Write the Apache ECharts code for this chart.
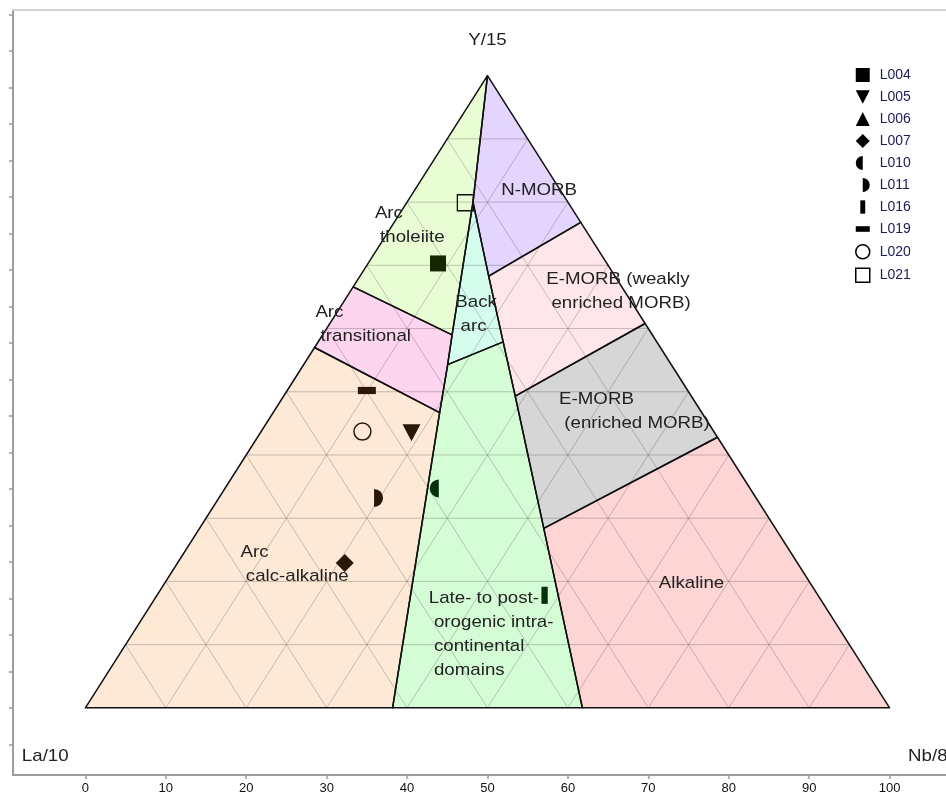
<!DOCTYPE html>
<html>
<head>
<meta charset="utf-8">
<title>La/10 - Y/15 - Nb/8</title>
<script src="https://cdn.jsdelivr.net/npm/echarts@6/dist/echarts.min.js"></script>
<style>
  html, body { margin: 0; padding: 0; background: #ffffff; }
  #chart { width: 946px; height: 796px; }
</style>
</head>
<body>
<div id="chart"></div>
<script>
// ---- Sample compositions (percent of La/10 + Y/15 + Nb/8) ----
const samples = ['L004', 'L005', 'L006', 'L007', 'L010', 'L011', 'L016', 'L019', 'L020', 'L021'];
const sampleLa = [21.0, 37.7, null, 56.3, 38.7, 47.5, 34.0, 39.9, 43.7, 12.8];
const sampleY  = [70.3, 43.5, null, 22.9, 34.7, 33.2, 17.8, 50.2, 43.7, 79.9];
const sampleNb = [ 8.7, 18.8, null, 20.8, 26.6, 19.3, 48.2,  9.9, 12.6,  7.3];

// ---- Field boundary nodes (ternary La, Y, Nb) ----
const nodeNames = ['apex', 'laCorner', 'nbCorner', 'backArcTop', 'tholLeft', 'tholRight',
  'transLeft', 'transRight', 'backArcLeft', 'backArcRight', 'nmorbLeft', 'nmorbRight',
  'emorbLeft', 'emorbRight', 'alkLeft', 'alkRight', 'orogLeft', 'orogRight'];
const nodeLa = [0, 100, 0, 11.8, 33.4, 24.9, 43.0, 32.6, 27.8, 19.1, 15.7, 0, 21.9, 0, 28.8, 0, 61.8, 38.2];
const nodeY  = [100, 0, 0, 80.0, 66.6, 59.0, 57.0, 46.7, 54.3, 57.9, 68.3, 76.8, 49.3, 60.8, 28.4, 42.8, 0, 0];
const nodeNb = [0, 0, 100, 8.2, 0, 16.1, 0, 20.7, 17.9, 23.0, 16.0, 23.2, 28.8, 39.2, 42.8, 57.2, 38.2, 61.8];

// ---- Discrimination fields ----
const fieldNames = ['Arc tholeiite', 'N-MORB', 'Back arc', 'Arc transitional', 'E-MORB weak',
  'E-MORB', 'Arc calc-alkaline', 'Late-orogenic', 'Alkaline'];
const fieldOutlines = [
  ['apex', 'tholLeft', 'tholRight', 'backArcTop'],
  ['apex', 'backArcTop', 'nmorbLeft', 'nmorbRight'],
  ['backArcTop', 'tholRight', 'backArcLeft', 'backArcRight', 'nmorbLeft'],
  ['tholLeft', 'transLeft', 'transRight', 'backArcLeft', 'tholRight'],
  ['nmorbLeft', 'backArcRight', 'emorbLeft', 'emorbRight', 'nmorbRight'],
  ['emorbLeft', 'alkLeft', 'alkRight', 'emorbRight'],
  ['transLeft', 'laCorner', 'orogLeft', 'transRight'],
  ['orogLeft', 'orogRight', 'alkLeft', 'emorbLeft', 'backArcRight', 'backArcLeft', 'transRight'],
  ['orogRight', 'nbCorner', 'alkRight', 'alkLeft']
];
const fieldColors = ['#e9fdd5', '#e3d5fd', '#d5fdee', '#fdd5ef', '#ffe6ea',
  '#d6d6d6', '#fee8d6', '#d5fdd5', '#fed5d5'];

// ---- Field labels (anchor = top-left of the text block, cartesian units) ----
const fieldLabelText = ['Arc\n tholeiite', 'N-MORB', 'Back\n arc', 'Arc\n transitional',
  'E-MORB (weakly\n enriched MORB)', 'E-MORB\n (enriched MORB)', 'Alkaline', 'Arc\n calc-alkaline',
  'Late- to post-\n orogenic intra-\n continental\n domains'];
const fieldLabelX = [36.0, 51.7, 46.0, 28.6, 57.3, 58.9, 71.3, 19.3, 42.7];
const fieldLabelY = [69.4, 72.6, 57.2, 55.8, 60.4, 43.9, 18.7, 22.9, 16.7];

// ---- Apex titles ----
const apexTitles = ['Y/15', 'La/10', 'Nb/8'];
const apexTitleX = [50.0, -7.9, 102.3];
const apexTitleY = [91.5, -6.7, -6.7];

// ---- Axis ticks ----
const xTicks = [0, 10, 20, 30, 40, 50, 60, 70, 80, 90, 100];
const yTicks = [-5, 0, 5, 10, 15, 20, 25, 30, 35, 40, 45, 50, 55, 60, 65, 70, 75, 80, 85, 90, 95];

const SQ3 = Math.sqrt(3) / 2;
function toXY(la, y, nb) {
  const s = la + y + nb;
  return [(nb + y / 2) / s * 100, (y * SQ3) / s * 100];
}
function nodeXY(name) {
  const i = nodeNames.indexOf(name);
  return toXY(nodeLa[i], nodeY[i], nodeNb[i]);
}

// Ternary grid every 10 %
const gridLines = [];
for (let k = 10; k < 100; k += 10) {
  gridLines.push([...toXY(100 - k, k, 0), ...toXY(0, k, 100 - k)]);
  gridLines.push([...toXY(k, 100 - k, 0), ...toXY(k, 0, 100 - k)]);
  gridLines.push([...toXY(100 - k, 0, k), ...toXY(0, 100 - k, k)]);
}

const FONT = 'Liberation Sans, Arial, Helvetica, sans-serif';

function fieldPolygon(api, i, stroke) {
  const pts = fieldOutlines[i].map(n => api.coord(nodeXY(n)));
  return {
    type: 'polygon',
    shape: { points: pts },
    style: stroke ? { fill: 'none', stroke: '#111', lineWidth: 1.5, lineJoin: 'round' }
                  : { fill: fieldColors[i], stroke: 'none' }
  };
}

const fieldData = fieldNames.map((n, i) => {
  const pts = fieldOutlines[i].map(nodeXY);
  return [pts.reduce((a, p) => a + p[0], 0) / pts.length, pts.reduce((a, p) => a + p[1], 0) / pts.length];
});

// Marker shapes for each sample
const symbolOf = {
  L004: 'rect',
  L005: 'path://M0 0 L20 0 L10 19 Z',
  L006: 'triangle',
  L007: 'diamond',
  L010: 'path://M0 0 M20 20 M10 0 A10 10 0 0 0 10 20 Z',
  L011: 'path://M0 0 M20 20 M10 0 A10 10 0 0 1 10 20 Z',
  L016: 'path://M0 0 M20 20 M6.5 0.5 L13.5 0.5 L13.5 19.5 L6.5 19.5 Z',
  L019: 'path://M0 0 M20 20 M0 6 L20 6 L20 14 L0 14 Z',
  L020: 'circle',
  L021: 'rect'
};
const sizeOf = { L004: 16, L005: [18, 17], L006: 16, L007: 18, L010: 18, L011: 18, L016: 18, L019: 18, L020: 17, L021: 16 };
const colorOf = { L004: '#142800', L005: '#2a1806', L006: '#000000', L007: '#2a1806', L010: '#06300a',
  L011: '#2a1806', L016: '#06300a', L019: '#2a1806', L020: '#2a1806', L021: '#111111' };
const hollow = { L020: 1.5, L021: 1.3 };

const sampleSeries = samples.map((name, i) => {
  const data = sampleLa[i] == null ? [] : [toXY(sampleLa[i], sampleY[i], sampleNb[i])];
  const itemStyle = hollow[name]
    ? { color: 'transparent', borderColor: colorOf[name], borderWidth: hollow[name], opacity: 1 }
    : { color: colorOf[name], opacity: 1 };
  return {
    type: 'scatter', name, data, z: 10,
    symbol: symbolOf[name], symbolSize: sizeOf[name],
    itemStyle, emphasis: { disabled: true }
  };
});

const chart = echarts.init(document.getElementById('chart'), null, { renderer: 'canvas' });
chart.setOption({
  animation: false,
  backgroundColor: '#ffffff',
  grid: { left: 13, top: 10, right: -24, bottom: 21, containLabel: false, outerBoundsMode: 'none' },
  xAxis: [
    {
      type: 'value', min: -9, max: 110, position: 'bottom',
      axisLine: { show: true, onZero: false, lineStyle: { color: '#9c9c9c', width: 2 } },
      axisTick: { show: true, length: 4, customValues: xTicks, lineStyle: { color: '#9c9c9c', width: 1.5 } },
      axisLabel: { show: true, customValues: xTicks, color: '#111', fontSize: 13, fontFamily: FONT, margin: 7 },
      splitLine: { show: false }
    },
    {
      type: 'value', min: -9, max: 110, position: 'top',
      axisLine: { show: true, onZero: false, lineStyle: { color: '#d2d2d2', width: 2 } },
      axisTick: { show: false }, axisLabel: { show: false }, splitLine: { show: false }
    }
  ],
  yAxis: [{
    type: 'value', min: -9.2, max: 95.6, position: 'left',
    axisLine: { show: true, onZero: false, lineStyle: { color: '#9c9c9c', width: 2 } },
    axisTick: { show: true, length: 4, customValues: yTicks, lineStyle: { color: '#9c9c9c', width: 1.5 } },
    axisLabel: { show: false }, splitLine: { show: false }
  }],
  legend: {
    orient: 'vertical', left: 850, top: 63,
    itemWidth: 14, itemHeight: 14, itemGap: 8,
    symbolKeepAspect: true,
    selectedMode: false,
    textStyle: { fontSize: 14, fontFamily: FONT, color: '#20205a', padding: [0, 0, 0, 5] },
    data: samples.map(name => ({
      name,
      itemStyle: hollow[name]
        ? { color: 'transparent', borderColor: '#000', borderWidth: 1.5, opacity: 1 }
        : { color: '#000', borderWidth: 0, opacity: 1 }
    }))
  },
  series: [
    {
      type: 'custom', name: 'fields', z: 1, silent: true, clip: false,
      data: fieldData,
      renderItem: (params, api) => fieldPolygon(api, params.dataIndex, false)
    },
    {
      type: 'custom', name: 'grid', z: 2, silent: true, clip: false,
      data: gridLines,
      renderItem: (params, api) => {
        const l = gridLines[params.dataIndex];
        const a = api.coord([l[0], l[1]]);
        const b = api.coord([l[2], l[3]]);
        return {
          type: 'line',
          shape: { x1: a[0], y1: a[1], x2: b[0], y2: b[1] },
          style: { stroke: 'rgba(60,60,60,0.28)', lineWidth: 1 }
        };
      }
    },
    {
      type: 'custom', name: 'boundaries', z: 3, silent: true, clip: false,
      data: fieldData,
      renderItem: (params, api) => fieldPolygon(api, params.dataIndex, true)
    },
    {
      type: 'custom', name: 'fieldLabels', z: 4, silent: true, clip: false,
      data: fieldLabelX.map((x, i) => [x, fieldLabelY[i]]),
      renderItem: (params, api) => {
        const i = params.dataIndex;
        const p = api.coord([fieldLabelX[i], fieldLabelY[i]]);
        return {
          type: 'text', x: p[0], y: p[1], scaleX: 1.1,
          style: { text: fieldLabelText[i], fontSize: 17, fontFamily: FONT, fill: '#222',
                   align: 'left', verticalAlign: 'top', lineHeight: 24 }
        };
      }
    },
    {
      type: 'custom', name: 'apexTitles', z: 4, silent: true, clip: false,
      data: apexTitleX.map((x, i) => [x, apexTitleY[i]]),
      renderItem: (params, api) => {
        const i = params.dataIndex;
        const p = api.coord([apexTitleX[i], apexTitleY[i]]);
        return {
          type: 'text', x: p[0], y: p[1], scaleX: 1.1,
          style: { text: apexTitles[i], fontSize: 17, fontFamily: FONT, fill: '#222',
                   align: i === 0 ? 'center' : 'left', verticalAlign: 'middle' }
        };
      }
    },
    ...sampleSeries
  ]
});
</script>
</body>
</html>
